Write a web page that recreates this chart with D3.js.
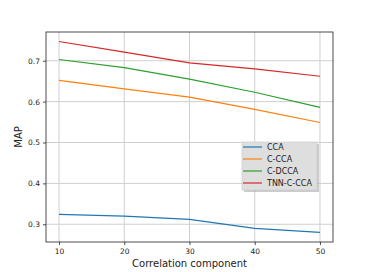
<!DOCTYPE html>
<html>
<head>
<meta charset="UTF-8">
<script src="https://d3js.org/d3.v7.min.js"></script>
<style>
  body { margin: 0; background: #fff; }
  text { font-family: "DejaVu Sans", sans-serif; fill: #222; }
  .grid line { stroke: #cfcfcf; stroke-width: 1px; }
</style>
</head>
<body>
<svg width="371" height="272"></svg>
<script>
  // データ
  const components = [10, 20, 30, 40, 50];
  const seriesNames = ["CCA", "C-CCA", "C-DCCA", "TNN-C-CCA"];
  const ccaVals = [0.324, 0.320, 0.312, 0.290, 0.280];
  const cccaVals = [0.652, 0.631, 0.611, 0.581, 0.549];
  const cdccaVals = [0.703, 0.683, 0.655, 0.623, 0.586];
  const tnnVals = [0.747, 0.721, 0.695, 0.680, 0.662];
  const yTicks = [0.3, 0.4, 0.5, 0.6, 0.7];
  const colors = ["#1f77b4", "#ff7f0e", "#2ca02c", "#d62728"];

  const svg = d3.select("svg");
  const margin = { left: 46, right: 38, top: 32, bottom: 30 };
  const W = 371, H = 272;

  const x = d3.scaleLinear().domain([8, 52]).range([margin.left, W - margin.right]);
  const y = d3.scaleLinear().domain([0.2566, 0.7703]).range([H - margin.bottom, margin.top]);

  // グリッド
  const grid = svg.append("g").attr("class", "grid");
  grid.selectAll(".gx").data(components).enter().append("line")
    .attr("x1", d => x(d)).attr("x2", d => x(d))
    .attr("y1", y.range()[0]).attr("y2", y.range()[1]);
  grid.selectAll(".gy").data(yTicks).enter().append("line")
    .attr("y1", d => y(d)).attr("y2", d => y(d))
    .attr("x1", x.range()[0]).attr("x2", x.range()[1]);

  // 線
  const allSeries = [ccaVals, cccaVals, cdccaVals, tnnVals];
  const line = d3.line().x((d, i) => x(components[i])).y(d => y(d));
  svg.selectAll(".series").data(allSeries).enter().append("path")
    .attr("fill", "none")
    .attr("stroke", (d, i) => colors[i])
    .attr("stroke-width", 1.2)
    .attr("d", line);

  // 軸
  const xAxis = svg.append("g")
    .attr("transform", `translate(0,${H - margin.bottom})`)
    .call(d3.axisBottom(x).tickValues(components).tickSize(3).tickPadding(4));
  const yAxis = svg.append("g")
    .attr("transform", `translate(${margin.left},0)`)
    .call(d3.axisLeft(y).tickValues(yTicks).tickSize(3).tickPadding(3).tickFormat(d3.format(".1f")));
  [xAxis, yAxis].forEach(a => {
    a.select(".domain").remove();
    a.selectAll("text").style("font-size", "7.5px").style("font-family", "DejaVu Sans");
    a.selectAll("line").attr("stroke", "#222").attr("stroke-width", 0.8);
  });

  // 枠
  svg.append("rect")
    .attr("x", margin.left).attr("y", margin.top)
    .attr("width", W - margin.left - margin.right)
    .attr("height", H - margin.top - margin.bottom)
    .attr("fill", "none").attr("stroke", "#222").attr("stroke-width", 0.8);

  // 軸ラベル
  svg.append("text")
    .attr("x", (x.range()[0] + x.range()[1]) / 2).attr("y", 267)
    .attr("text-anchor", "middle").style("font-size", "10px")
    .text("Correlation component");
  svg.append("text")
    .attr("transform", `translate(22,${(y.range()[0] + y.range()[1]) / 2}) rotate(-90)`)
    .attr("text-anchor", "middle").style("font-size", "10px")
    .text("MAP");

  // 凡例
  const lg = svg.append("g").attr("transform", "translate(242,142)");
  lg.append("rect").attr("x", 2).attr("y", 2).attr("width", 75).attr("height", 48)
    .attr("fill", "#999").attr("opacity", 0.5);
  lg.append("rect").attr("width", 75).attr("height", 48)
    .attr("fill", "#dedede").attr("stroke", "#c8c8c8").attr("stroke-width", 0.6);
  seriesNames.forEach((name, i) => {
    const yy = 5 + i * 12;
    lg.append("line").attr("x1", 1).attr("x2", 20).attr("y1", yy).attr("y2", yy)
      .attr("stroke", colors[i]).attr("stroke-width", 1.2);
    lg.append("text").attr("x", 25).attr("y", yy).attr("dy", "0.35em")
      .style("font-size", "8px").text(name);
  });
</script>
</body>
</html>
